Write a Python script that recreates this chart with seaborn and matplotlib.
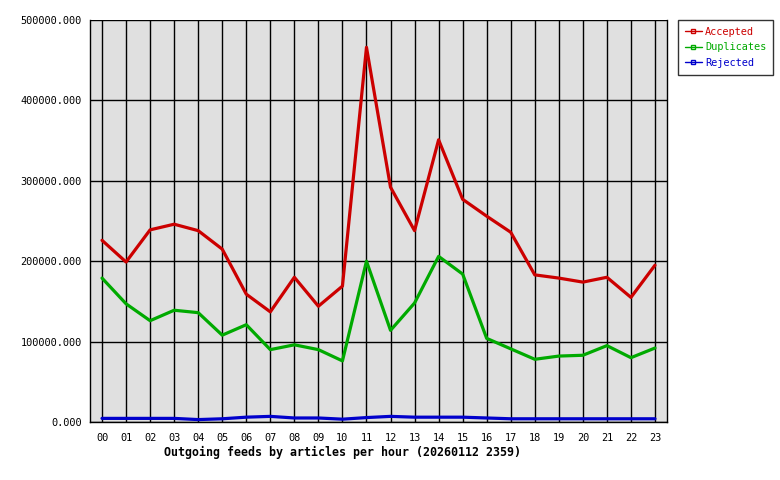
import matplotlib
matplotlib.use("Agg")
import matplotlib.pyplot as plt
import seaborn as sns
import pandas as pd
import numpy as np
from matplotlib.lines import Line2D

hours = ["00","01","02","03","04","05","06","07","08","09","10","11",
         "12","13","14","15","16","17","18","19","20","21","22","23"]
accepted = [226000,199000,239000,246000,238000,215000,159000,137000,180000,144000,169000,466000,
            292000,238000,351000,277000,256000,236000,183000,179000,174000,180000,155000,195000]
duplicates = [179000,147000,126000,139000,136000,108000,121000,90000,96000,90000,76000,200000,
              114000,148000,206000,184000,104000,91000,78000,82000,83000,95000,80000,92000]
rejected = [4500,4500,4500,4500,3000,4000,6000,7000,5000,5000,3500,5500,
            7000,6000,6000,6000,5000,4000,4000,4000,4000,4000,4000,4000]
series_names = ["Accepted", "Duplicates", "Rejected"]
colors = ["#cc0000", "#00aa00", "#0000cc"]
yticks = [0, 100000, 200000, 300000, 400000, 500000]
xlabel = "Outgoing feeds by articles per hour (20260112 2359)"

sns.set_style("white")
plt.rcParams['font.family'] = ['DejaVu Sans Mono']

x = np.arange(len(hours))
df = pd.DataFrame({
    "hour": np.tile(x, 3),
    "value": accepted + duplicates + rejected,
    "series": np.repeat(series_names, len(hours)),
})

fig = plt.figure(figsize=(7.8, 4.8), dpi=100)
ax = fig.add_axes([90/780, 1-422/480, (667-90)/780, (422-20)/480])
ax.set_facecolor("#e0e0e0")

sns.lineplot(data=df, x="hour", y="value", hue="series", palette=colors,
             hue_order=series_names, linewidth=2.3, ax=ax, legend=False, zorder=3)

ax.set_xlim(-0.5, 23.5)
ax.set_ylim(0, 500000)
ax.set_xticks(x)
ax.set_xticklabels(hours)
ax.set_yticks(yticks)
ax.set_yticklabels([f"{v:.3f}" for v in yticks])
ax.tick_params(axis="both", labelsize=7.4, colors="black", length=4, width=1, direction="out")
ax.tick_params(axis="x", pad=4)
ax.tick_params(axis="y", pad=2)
ax.grid(True, color="black", linewidth=1)
ax.set_axisbelow(True)
for s in ["left", "bottom", "right"]:
    ax.spines[s].set_color("black")
    ax.spines[s].set_linewidth(1)
ax.spines["top"].set_visible(False)
ax.set_xlabel("")
ax.set_ylabel("")

fig.text(343/780, 1-452/480, xlabel, ha="center", va="center",
         fontsize=8.4, fontweight="bold", color="black")

handles = [Line2D([0], [0], color=c, lw=1, marker="s", markersize=3,
                  markerfacecolor="none", markeredgecolor=c) for c in colors]
leg = fig.legend(handles, series_names, loc="upper left",
                 bbox_to_anchor=(678/780, 1-20/480), frameon=True, fancybox=False,
                 fontsize=7.4, handlelength=1.7, handletextpad=0.3,
                 borderpad=0.65, labelspacing=0.55, borderaxespad=0)
leg.get_frame().set_edgecolor("black")
leg.get_frame().set_linewidth(1)
for t, c in zip(leg.get_texts(), colors):
    t.set_color(c)

fig.savefig("out.png", dpi=100)
